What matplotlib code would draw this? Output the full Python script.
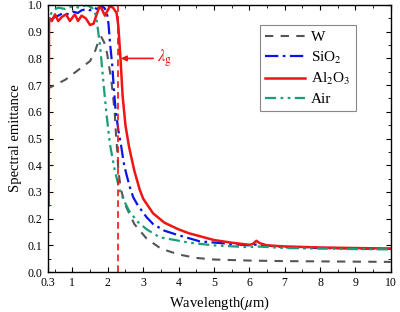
import matplotlib
matplotlib.use("Agg")
import matplotlib.pyplot as plt
import numpy as np
from matplotlib.ticker import MultipleLocator, FixedLocator

plt.rcParams["font.family"] = ["Liberation Serif", "DejaVu Serif"]
plt.rcParams["mathtext.fontset"] = "stix"

# W (gray dashed)
w_x = [0.3, 0.35, 0.5, 0.8, 1.0, 1.3, 1.5, 1.65, 1.75, 1.82, 1.9, 1.98, 2.05, 2.1,
       2.15, 2.2, 2.23, 2.27, 2.3, 2.37, 2.5, 2.75, 3.1, 3.5, 4.0, 4.5, 5.0, 6.0,
       7.0, 8.0, 10.0]
w_y = [0.68, 0.69, 0.7, 0.72, 0.74, 0.77, 0.79, 0.83, 0.87, 0.88, 0.86, 0.82, 0.76,
       0.72, 0.66, 0.59, 0.52, 0.45, 0.38, 0.31, 0.25, 0.18, 0.125, 0.088, 0.066,
       0.053, 0.047, 0.043, 0.041, 0.04, 0.038]

# SiO2 (blue dash-dot)
sio2_x = [0.3, 0.33, 0.4, 0.5, 0.6, 0.74, 0.9, 1.03, 1.15, 1.26, 1.4, 1.5, 1.6, 1.7,
          1.8, 1.9, 1.97, 2.02, 2.07, 2.13, 2.17, 2.22, 2.3, 2.37, 2.45, 2.52, 2.62,
          2.72, 2.85, 2.96, 3.1, 3.28, 3.6, 3.95, 4.6, 5.5, 6.0, 6.2, 7.0, 8.0, 9.0, 10.0]
sio2_y = [0.85, 0.92, 0.945, 0.955, 0.96, 0.97, 0.965, 0.975, 0.97, 0.98, 0.985, 0.98,
          0.99, 0.985, 0.995, 0.99, 0.975, 0.93, 0.85, 0.77, 0.69, 0.61, 0.53, 0.48,
          0.41, 0.37, 0.32, 0.28, 0.25, 0.23, 0.205, 0.18, 0.155, 0.14, 0.115, 0.105,
          0.1, 0.103, 0.093, 0.09, 0.088, 0.087]

# Al2O3 (red solid)
al_x = [0.33, 0.333, 0.34, 0.36, 0.42, 0.51, 0.6, 0.7, 0.82, 0.93, 1.07, 1.16, 1.26,
        1.38, 1.5, 1.6, 1.7, 1.78, 1.85, 1.92, 2.0, 2.06, 2.15, 2.25, 2.3, 2.36, 2.42,
        2.5, 2.6, 2.75, 2.9, 3.0, 3.28, 3.6, 4.0, 4.3, 5.0, 5.5, 6.0, 6.1, 6.2, 6.3,
        6.5, 7.0, 8.0, 9.0, 10.0]
al_y = [0.25, 0.6, 0.93, 0.95, 0.94, 0.965, 0.94, 0.955, 0.965, 0.94, 0.965, 0.94,
        0.96, 0.95, 0.925, 0.93, 0.97, 0.998, 0.98, 0.96, 0.98, 0.995, 0.99, 0.97,
        0.92, 0.8, 0.66, 0.55, 0.47, 0.38, 0.31, 0.275, 0.22, 0.185, 0.16, 0.145,
        0.12, 0.11, 0.102, 0.105, 0.117, 0.108, 0.1, 0.096, 0.092, 0.09, 0.088]

# Air (green dash-dot-dot)
air_x = [0.3, 0.33, 0.37, 0.45, 0.6, 0.8, 1.0, 1.2, 1.4, 1.55, 1.62, 1.68, 1.73, 1.78,
         1.83, 1.87, 1.95, 2.06, 2.2, 2.35, 2.45, 2.6, 2.83, 3.1, 3.47, 3.9, 4.3, 5.0,
         6.0, 6.2, 7.0, 8.0, 9.0, 10.0]
air_y = [0.88, 0.93, 0.96, 0.98, 0.99, 0.985, 0.995, 0.99, 1.0, 0.99, 0.98, 0.95, 0.9,
         0.85, 0.78, 0.72, 0.61, 0.48, 0.38, 0.3, 0.27, 0.23, 0.19, 0.16, 0.13, 0.12,
         0.11, 0.1, 0.093, 0.096, 0.09, 0.088, 0.086, 0.085]

lambda_g = 2.3
x_ticks = [0.3, 1, 2, 3, 4, 5, 6, 7, 8, 9, 10]

fig = plt.figure(figsize=(4.0, 3.12), dpi=100)
ax = fig.add_axes([0.119, 0.128, 0.858, 0.856])

ax.plot(w_x, w_y, color="#555555", linestyle=(0, (4, 3.5)), linewidth=1.5, label="W")
ax.plot(sio2_x, sio2_y, color="#0a14e6", linestyle=(0, (6, 2, 1.2, 2)), linewidth=1.6,
        label="SiO$_2$")
ax.plot(al_x, al_y, color="#f01414", linestyle="-", linewidth=1.8, label="Al$_2$O$_3$")
ax.plot(air_x, air_y, color="#1a9e78", linestyle=(0, (5, 2, 1.2, 2, 1.2, 2)),
        linewidth=1.6, label="Air")

ax.axvline(lambda_g, color="#f01414", linestyle=(0, (4, 2.5)), linewidth=1.2)
ax.annotate(r"$\lambda_{\rm g}$", xy=(2.37, 0.8), xytext=(3.4, 0.8),
            color="#f01414", fontsize=12, va="center",
            arrowprops=dict(arrowstyle="-|>", color="#f01414", lw=1.2,
                            mutation_scale=8, shrinkA=1, shrinkB=0))

ax.set_xlim(0.3, 10)
ax.set_ylim(0, 1.0)
ax.xaxis.set_major_locator(FixedLocator(x_ticks))
ax.set_xticklabels(["0.3", "1", "2", "3", "4", "5", "6", "7", "8", "9", "10"])
ax.xaxis.set_minor_locator(MultipleLocator(0.5))
ax.yaxis.set_major_locator(MultipleLocator(0.1))
ax.yaxis.set_minor_locator(MultipleLocator(0.05))
ax.tick_params(which="both", direction="in", top=True, right=True, labelsize=8.5)
ax.tick_params(which="major", length=3.5, width=0.8)
ax.tick_params(which="minor", length=2, width=0.6)
for s in ax.spines.values():
    s.set_linewidth(1.0)

ax.set_xlabel(r"Wavelength($\mu$m)", fontsize=10.5)
ax.set_ylabel("Spectral emittance", fontsize=10.5)

leg = ax.legend(loc="upper left", bbox_to_anchor=(0.619, 0.925), borderaxespad=0,
                fontsize=11, fancybox=False, edgecolor="#888888", handlelength=2.6,
                borderpad=0.35, labelspacing=0.35, handletextpad=0.4, framealpha=1)
leg.get_frame().set_linewidth(0.8)

fig.savefig("out.png", dpi=100)
